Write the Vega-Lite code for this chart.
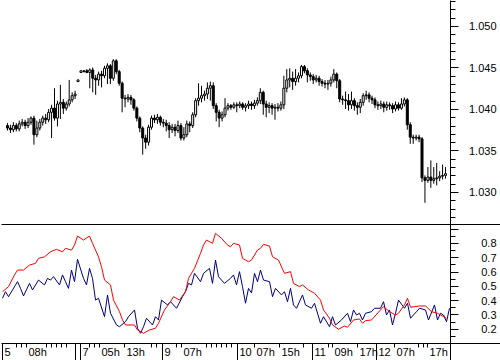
{
"$schema": "https://vega.github.io/schema/vega-lite/v6.json",
"padding": 0,
"autosize": {"type": "pad"},
"background": "white",
"spacing": 0,
"bounds": "flush",
"config": {"view": {"stroke": null}, "axis": {"labelFont": "Liberation Sans", "labelFontSize": 11, "labelColor": "black", "domainColor": "black", "tickColor": "black", "grid": false, "labelOverlap": false, "labelFlush": false, "labelBound": false, "title": null, "tickCount": 1000}},
"datasets": {
"candles": [
{"i":0,"o":1.0380,"c":1.0377,"h":1.0383,"l":1.0374},
{"i":1,"o":1.0377,"c":1.0375,"h":1.0381,"l":1.0371},
{"i":2,"o":1.0375,"c":1.0380,"h":1.0384,"l":1.0372},
{"i":3,"o":1.0380,"c":1.0376,"h":1.0383,"l":1.0373},
{"i":4,"o":1.0376,"c":1.0382,"h":1.0386,"l":1.0373},
{"i":5,"o":1.0382,"c":1.0384,"h":1.0388,"l":1.0379},
{"i":6,"o":1.0384,"c":1.0380,"h":1.0387,"l":1.0376},
{"i":7,"o":1.0380,"c":1.0384,"h":1.0389,"l":1.0377},
{"i":8,"o":1.0384,"c":1.0389,"h":1.0391,"l":1.0381},
{"i":9,"o":1.0389,"c":1.0369,"h":1.0392,"l":1.0357},
{"i":10,"o":1.0369,"c":1.0377,"h":1.0386,"l":1.0366},
{"i":11,"o":1.0377,"c":1.0384,"h":1.0388,"l":1.0374},
{"i":12,"o":1.0384,"c":1.0389,"h":1.0392,"l":1.0380},
{"i":13,"o":1.0389,"c":1.0387,"h":1.0394,"l":1.0382},
{"i":14,"o":1.0387,"c":1.0396,"h":1.0400,"l":1.0384},
{"i":15,"o":1.0396,"c":1.0401,"h":1.0405,"l":1.0365},
{"i":16,"o":1.0401,"c":1.0389,"h":1.0425,"l":1.0386},
{"i":17,"o":1.0389,"c":1.0406,"h":1.0410,"l":1.0379},
{"i":18,"o":1.0406,"c":1.0408,"h":1.0429,"l":1.0388},
{"i":19,"o":1.0408,"c":1.0401,"h":1.0412,"l":1.0394},
{"i":20,"o":1.0401,"c":1.0406,"h":1.0409,"l":1.0398},
{"i":21,"o":1.0406,"c":1.0411,"h":1.0435,"l":1.0403},
{"i":22,"o":1.0411,"c":1.0416,"h":1.0420,"l":1.0408},
{"i":23,"o":1.0416,"c":1.0418,"h":1.0422,"l":1.0412},
{"i":24,"o":1.0433,"c":1.0435,"h":1.0435,"l":1.0433},
{"i":25,"o":1.0444,"c":1.0446,"h":1.0446,"l":1.0444},
{"i":26,"o":1.0445,"c":1.0446,"h":1.0447,"l":1.0444},
{"i":27,"o":1.0446,"c":1.0444,"h":1.0448,"l":1.0443},
{"i":28,"o":1.0444,"c":1.0447,"h":1.0449,"l":1.0425},
{"i":29,"o":1.0447,"c":1.0437,"h":1.0450,"l":1.0420},
{"i":30,"o":1.0437,"c":1.0435,"h":1.0441,"l":1.0417},
{"i":31,"o":1.0435,"c":1.0442,"h":1.0445,"l":1.0428},
{"i":32,"o":1.0442,"c":1.0440,"h":1.0446,"l":1.0426},
{"i":33,"o":1.0440,"c":1.0449,"h":1.0452,"l":1.0437},
{"i":34,"o":1.0449,"c":1.0452,"h":1.0455,"l":1.0430},
{"i":35,"o":1.0452,"c":1.0437,"h":1.0454,"l":1.0430},
{"i":36,"o":1.0437,"c":1.0458,"h":1.0460,"l":1.0434},
{"i":37,"o":1.0458,"c":1.0445,"h":1.0460,"l":1.0442},
{"i":38,"o":1.0445,"c":1.0431,"h":1.0447,"l":1.0428},
{"i":39,"o":1.0431,"c":1.0413,"h":1.0433,"l":1.0396},
{"i":40,"o":1.0413,"c":1.0412,"h":1.0417,"l":1.0402},
{"i":41,"o":1.0412,"c":1.0414,"h":1.0418,"l":1.0408},
{"i":42,"o":1.0414,"c":1.0411,"h":1.0417,"l":1.0405},
{"i":43,"o":1.0411,"c":1.0401,"h":1.0413,"l":1.0398},
{"i":44,"o":1.0401,"c":1.0389,"h":1.0403,"l":1.0385},
{"i":45,"o":1.0389,"c":1.0377,"h":1.0391,"l":1.0372},
{"i":46,"o":1.0377,"c":1.0365,"h":1.0379,"l":1.0345},
{"i":47,"o":1.0365,"c":1.0360,"h":1.0369,"l":1.0352},
{"i":48,"o":1.0360,"c":1.0378,"h":1.0381,"l":1.0356},
{"i":49,"o":1.0378,"c":1.0389,"h":1.0392,"l":1.0375},
{"i":50,"o":1.0389,"c":1.0387,"h":1.0393,"l":1.0383},
{"i":51,"o":1.0387,"c":1.0390,"h":1.0394,"l":1.0382},
{"i":52,"o":1.0390,"c":1.0384,"h":1.0392,"l":1.0380},
{"i":53,"o":1.0384,"c":1.0383,"h":1.0388,"l":1.0378},
{"i":54,"o":1.0383,"c":1.0380,"h":1.0387,"l":1.0373},
{"i":55,"o":1.0380,"c":1.0375,"h":1.0384,"l":1.0365},
{"i":56,"o":1.0375,"c":1.0378,"h":1.0382,"l":1.0371},
{"i":57,"o":1.0378,"c":1.0374,"h":1.0382,"l":1.0367},
{"i":58,"o":1.0374,"c":1.0380,"h":1.0386,"l":1.0371},
{"i":59,"o":1.0380,"c":1.0365,"h":1.0383,"l":1.0362},
{"i":60,"o":1.0365,"c":1.0369,"h":1.0378,"l":1.0362},
{"i":61,"o":1.0369,"c":1.0382,"h":1.0386,"l":1.0366},
{"i":62,"o":1.0382,"c":1.0380,"h":1.0385,"l":1.0372},
{"i":63,"o":1.0380,"c":1.0393,"h":1.0396,"l":1.0377},
{"i":64,"o":1.0393,"c":1.0410,"h":1.0413,"l":1.0390},
{"i":65,"o":1.0410,"c":1.0413,"h":1.0431,"l":1.0404},
{"i":66,"o":1.0413,"c":1.0416,"h":1.0428,"l":1.0408},
{"i":67,"o":1.0416,"c":1.0418,"h":1.0422,"l":1.0410},
{"i":68,"o":1.0418,"c":1.0425,"h":1.0432,"l":1.0412},
{"i":69,"o":1.0425,"c":1.0428,"h":1.0433,"l":1.0410},
{"i":70,"o":1.0428,"c":1.0404,"h":1.0432,"l":1.0400},
{"i":71,"o":1.0404,"c":1.0396,"h":1.0407,"l":1.0385},
{"i":72,"o":1.0396,"c":1.0389,"h":1.0399,"l":1.0378},
{"i":73,"o":1.0389,"c":1.0393,"h":1.0397,"l":1.0385},
{"i":74,"o":1.0393,"c":1.0401,"h":1.0413,"l":1.0390},
{"i":75,"o":1.0401,"c":1.0404,"h":1.0407,"l":1.0398},
{"i":76,"o":1.0404,"c":1.0402,"h":1.0406,"l":1.0399},
{"i":77,"o":1.0402,"c":1.0405,"h":1.0408,"l":1.0400},
{"i":78,"o":1.0405,"c":1.0404,"h":1.0408,"l":1.0396},
{"i":79,"o":1.0404,"c":1.0406,"h":1.0409,"l":1.0401},
{"i":80,"o":1.0406,"c":1.0402,"h":1.0408,"l":1.0399},
{"i":81,"o":1.0402,"c":1.0404,"h":1.0407,"l":1.0397},
{"i":82,"o":1.0404,"c":1.0406,"h":1.0410,"l":1.0400},
{"i":83,"o":1.0406,"c":1.0404,"h":1.0409,"l":1.0399},
{"i":84,"o":1.0404,"c":1.0407,"h":1.0411,"l":1.0400},
{"i":85,"o":1.0407,"c":1.0410,"h":1.0414,"l":1.0404},
{"i":86,"o":1.0410,"c":1.0420,"h":1.0425,"l":1.0406},
{"i":87,"o":1.0420,"c":1.0406,"h":1.0422,"l":1.0393},
{"i":88,"o":1.0406,"c":1.0402,"h":1.0410,"l":1.0390},
{"i":89,"o":1.0402,"c":1.0404,"h":1.0408,"l":1.0395},
{"i":90,"o":1.0404,"c":1.0401,"h":1.0407,"l":1.0393},
{"i":91,"o":1.0401,"c":1.0402,"h":1.0406,"l":1.0387},
{"i":92,"o":1.0402,"c":1.0401,"h":1.0407,"l":1.0397},
{"i":93,"o":1.0401,"c":1.0405,"h":1.0409,"l":1.0398},
{"i":94,"o":1.0405,"c":1.0425,"h":1.0440,"l":1.0400},
{"i":95,"o":1.0425,"c":1.0435,"h":1.0448,"l":1.0420},
{"i":96,"o":1.0435,"c":1.0437,"h":1.0449,"l":1.0426},
{"i":97,"o":1.0437,"c":1.0433,"h":1.0445,"l":1.0423},
{"i":98,"o":1.0433,"c":1.0437,"h":1.0448,"l":1.0428},
{"i":99,"o":1.0437,"c":1.0440,"h":1.0444,"l":1.0432},
{"i":100,"o":1.0440,"c":1.0451,"h":1.0453,"l":1.0437},
{"i":101,"o":1.0451,"c":1.0446,"h":1.0453,"l":1.0443},
{"i":102,"o":1.0446,"c":1.0441,"h":1.0449,"l":1.0432},
{"i":103,"o":1.0441,"c":1.0439,"h":1.0444,"l":1.0434},
{"i":104,"o":1.0439,"c":1.0435,"h":1.0442,"l":1.0430},
{"i":105,"o":1.0435,"c":1.0437,"h":1.0441,"l":1.0432},
{"i":106,"o":1.0437,"c":1.0433,"h":1.0440,"l":1.0428},
{"i":107,"o":1.0433,"c":1.0431,"h":1.0436,"l":1.0427},
{"i":108,"o":1.0431,"c":1.0430,"h":1.0435,"l":1.0425},
{"i":109,"o":1.0430,"c":1.0431,"h":1.0435,"l":1.0423},
{"i":110,"o":1.0431,"c":1.0435,"h":1.0439,"l":1.0427},
{"i":111,"o":1.0435,"c":1.0442,"h":1.0448,"l":1.0432},
{"i":112,"o":1.0442,"c":1.0434,"h":1.0444,"l":1.0425},
{"i":113,"o":1.0434,"c":1.0412,"h":1.0436,"l":1.0408},
{"i":114,"o":1.0412,"c":1.0411,"h":1.0416,"l":1.0405},
{"i":115,"o":1.0411,"c":1.0410,"h":1.0421,"l":1.0400},
{"i":116,"o":1.0410,"c":1.0405,"h":1.0418,"l":1.0398},
{"i":117,"o":1.0405,"c":1.0410,"h":1.0421,"l":1.0400},
{"i":118,"o":1.0410,"c":1.0404,"h":1.0413,"l":1.0398},
{"i":119,"o":1.0404,"c":1.0402,"h":1.0408,"l":1.0393},
{"i":120,"o":1.0402,"c":1.0408,"h":1.0412,"l":1.0395},
{"i":121,"o":1.0408,"c":1.0416,"h":1.0419,"l":1.0404},
{"i":122,"o":1.0416,"c":1.0417,"h":1.0422,"l":1.0411},
{"i":123,"o":1.0417,"c":1.0413,"h":1.0420,"l":1.0408},
{"i":124,"o":1.0413,"c":1.0411,"h":1.0416,"l":1.0406},
{"i":125,"o":1.0411,"c":1.0405,"h":1.0414,"l":1.0401},
{"i":126,"o":1.0405,"c":1.0404,"h":1.0409,"l":1.0399},
{"i":127,"o":1.0404,"c":1.0406,"h":1.0410,"l":1.0400},
{"i":128,"o":1.0406,"c":1.0402,"h":1.0409,"l":1.0396},
{"i":129,"o":1.0402,"c":1.0405,"h":1.0409,"l":1.0398},
{"i":130,"o":1.0405,"c":1.0404,"h":1.0408,"l":1.0399},
{"i":131,"o":1.0404,"c":1.0400,"h":1.0407,"l":1.0395},
{"i":132,"o":1.0400,"c":1.0405,"h":1.0409,"l":1.0397},
{"i":133,"o":1.0405,"c":1.0401,"h":1.0408,"l":1.0398},
{"i":134,"o":1.0401,"c":1.0406,"h":1.0413,"l":1.0399},
{"i":135,"o":1.0406,"c":1.0411,"h":1.0414,"l":1.0403},
{"i":136,"o":1.0411,"c":1.0381,"h":1.0413,"l":1.0375},
{"i":137,"o":1.0381,"c":1.0366,"h":1.0384,"l":1.0358},
{"i":138,"o":1.0366,"c":1.0365,"h":1.0369,"l":1.0358},
{"i":139,"o":1.0365,"c":1.0366,"h":1.0369,"l":1.0362},
{"i":140,"o":1.0366,"c":1.0364,"h":1.0369,"l":1.0360},
{"i":141,"o":1.0364,"c":1.0317,"h":1.0366,"l":1.0312},
{"i":142,"o":1.0317,"c":1.0314,"h":1.0320,"l":1.0287},
{"i":143,"o":1.0314,"c":1.0318,"h":1.0330,"l":1.0311},
{"i":144,"o":1.0318,"c":1.0314,"h":1.0338,"l":1.0305},
{"i":145,"o":1.0314,"c":1.0316,"h":1.0330,"l":1.0310},
{"i":146,"o":1.0316,"c":1.0317,"h":1.0335,"l":1.0308},
{"i":147,"o":1.0317,"c":1.0319,"h":1.0325,"l":1.0313},
{"i":148,"o":1.0319,"c":1.0320,"h":1.0333,"l":1.0315},
{"i":149,"o":1.0320,"c":1.0322,"h":1.0330,"l":1.0316}
],
"ind": [
{"s":"blue","i":0,"v":0.413},{"s":"blue","i":1,"v":0.459},{"s":"blue","i":2,"v":0.424},{"s":"blue","i":5,"v":0.529},{"s":"blue","i":6,"v":0.482},{"s":"blue","i":7,"v":0.429},{"s":"blue","i":9,"v":0.517},{"s":"blue","i":10,"v":0.471},{"s":"blue","i":12,"v":0.54},{"s":"blue","i":14,"v":0.506},{"s":"blue","i":15,"v":0.552},{"s":"blue","i":16,"v":0.54},{"s":"blue","i":17,"v":0.564},{"s":"blue","i":19,"v":0.506},{"s":"blue","i":20,"v":0.576},{"s":"blue","i":21,"v":0.529},{"s":"blue","i":22,"v":0.482},{"s":"blue","i":23,"v":0.61},{"s":"blue","i":24,"v":0.529},{"s":"blue","i":25,"v":0.685},{"s":"blue","i":27,"v":0.552},{"s":"blue","i":28,"v":0.506},{"s":"blue","i":29,"v":0.622},{"s":"blue","i":30,"v":0.552},{"s":"blue","i":31,"v":0.40},{"s":"blue","i":32,"v":0.413},{"s":"blue","i":34,"v":0.284},{"s":"blue","i":35,"v":0.436},{"s":"blue","i":36,"v":0.308},{"s":"blue","i":38,"v":0.226},{"s":"blue","i":39,"v":0.214},{"s":"blue","i":41,"v":0.249},{"s":"blue","i":42,"v":0.284},{"s":"blue","i":44,"v":0.331},{"s":"blue","i":45,"v":0.203},{"s":"blue","i":46,"v":0.168},{"s":"blue","i":47,"v":0.214},{"s":"blue","i":48,"v":0.273},{"s":"blue","i":50,"v":0.226},{"s":"blue","i":51,"v":0.284},{"s":"blue","i":52,"v":0.261},{"s":"blue","i":53,"v":0.40},{"s":"blue","i":55,"v":0.366},{"s":"blue","i":56,"v":0.389},{"s":"blue","i":58,"v":0.343},{"s":"blue","i":60,"v":0.424},{"s":"blue","i":61,"v":0.459},{"s":"blue","i":62,"v":0.517},{"s":"blue","i":63,"v":0.506},{"s":"blue","i":64,"v":0.587},{"s":"blue","i":66,"v":0.529},{"s":"blue","i":67,"v":0.587},{"s":"blue","i":69,"v":0.622},{"s":"blue","i":70,"v":0.517},{"s":"blue","i":71,"v":0.68},{"s":"blue","i":72,"v":0.564},{"s":"blue","i":74,"v":0.517},{"s":"blue","i":76,"v":0.552},{"s":"blue","i":77,"v":0.576},{"s":"blue","i":78,"v":0.506},{"s":"blue","i":79,"v":0.599},{"s":"blue","i":80,"v":0.494},{"s":"blue","i":81,"v":0.378},{"s":"blue","i":82,"v":0.482},{"s":"blue","i":83,"v":0.45},{"s":"blue","i":84,"v":0.587},{"s":"blue","i":85,"v":0.529},{"s":"blue","i":86,"v":0.61},{"s":"blue","i":87,"v":0.54},{"s":"blue","i":89,"v":0.529},{"s":"blue","i":90,"v":0.424},{"s":"blue","i":91,"v":0.482},{"s":"blue","i":93,"v":0.436},{"s":"blue","i":94,"v":0.459},{"s":"blue","i":95,"v":0.389},{"s":"blue","i":96,"v":0.482},{"s":"blue","i":97,"v":0.366},{"s":"blue","i":98,"v":0.343},{"s":"blue","i":100,"v":0.436},{"s":"blue","i":101,"v":0.366},{"s":"blue","i":103,"v":0.343},{"s":"blue","i":104,"v":0.378},{"s":"blue","i":106,"v":0.238},{"s":"blue","i":107,"v":0.284},{"s":"blue","i":109,"v":0.214},{"s":"blue","i":110,"v":0.284},{"s":"blue","i":111,"v":0.226},{"s":"blue","i":113,"v":0.261},{"s":"blue","i":115,"v":0.308},{"s":"blue","i":116,"v":0.249},{"s":"blue","i":117,"v":0.331},{"s":"blue","i":118,"v":0.296},{"s":"blue","i":119,"v":0.308},{"s":"blue","i":120,"v":0.261},{"s":"blue","i":121,"v":0.308},{"s":"blue","i":123,"v":0.319},{"s":"blue","i":124,"v":0.343},{"s":"blue","i":126,"v":0.343},{"s":"blue","i":127,"v":0.389},{"s":"blue","i":128,"v":0.296},{"s":"blue","i":129,"v":0.331},{"s":"blue","i":130,"v":0.226},{"s":"blue","i":131,"v":0.308},{"s":"blue","i":132,"v":0.40},{"s":"blue","i":134,"v":0.343},{"s":"blue","i":135,"v":0.378},{"s":"blue","i":136,"v":0.273},{"s":"blue","i":138,"v":0.319},{"s":"blue","i":139,"v":0.343},{"s":"blue","i":141,"v":0.331},{"s":"blue","i":142,"v":0.261},{"s":"blue","i":144,"v":0.366},{"s":"blue","i":145,"v":0.261},{"s":"blue","i":146,"v":0.308},{"s":"blue","i":147,"v":0.296},{"s":"blue","i":148,"v":0.249},{"s":"blue","i":149,"v":0.343},
{"s":"red","i":0,"v":0.459},{"s":"red","i":2,"v":0.494},{"s":"red","i":4,"v":0.576},{"s":"red","i":5,"v":0.61},{"s":"red","i":7,"v":0.61},{"s":"red","i":9,"v":0.645},{"s":"red","i":11,"v":0.657},{"s":"red","i":12,"v":0.692},{"s":"red","i":14,"v":0.703},{"s":"red","i":16,"v":0.738},{"s":"red","i":18,"v":0.755},{"s":"red","i":20,"v":0.738},{"s":"red","i":21,"v":0.762},{"s":"red","i":23,"v":0.75},{"s":"red","i":24,"v":0.785},{"s":"red","i":25,"v":0.848},{"s":"red","i":27,"v":0.82},{"s":"red","i":29,"v":0.848},{"s":"red","i":30,"v":0.797},{"s":"red","i":32,"v":0.703},{"s":"red","i":33,"v":0.633},{"s":"red","i":34,"v":0.54},{"s":"red","i":36,"v":0.506},{"s":"red","i":37,"v":0.40},{"s":"red","i":39,"v":0.319},{"s":"red","i":40,"v":0.261},{"s":"red","i":41,"v":0.226},{"s":"red","i":44,"v":0.226},{"s":"red","i":45,"v":0.191},{"s":"red","i":47,"v":0.168},{"s":"red","i":49,"v":0.191},{"s":"red","i":51,"v":0.203},{"s":"red","i":52,"v":0.238},{"s":"red","i":54,"v":0.331},{"s":"red","i":56,"v":0.389},{"s":"red","i":57,"v":0.424},{"s":"red","i":59,"v":0.40},{"s":"red","i":61,"v":0.459},{"s":"red","i":62,"v":0.552},{"s":"red","i":64,"v":0.622},{"s":"red","i":66,"v":0.727},{"s":"red","i":67,"v":0.785},{"s":"red","i":68,"v":0.82},{"s":"red","i":70,"v":0.797},{"s":"red","i":71,"v":0.867},{"s":"red","i":73,"v":0.832},{"s":"red","i":75,"v":0.785},{"s":"red","i":76,"v":0.773},{"s":"red","i":77,"v":0.797},{"s":"red","i":79,"v":0.785},{"s":"red","i":80,"v":0.692},{"s":"red","i":82,"v":0.668},{"s":"red","i":83,"v":0.68},{"s":"red","i":85,"v":0.75},{"s":"red","i":86,"v":0.762},{"s":"red","i":87,"v":0.79},{"s":"red","i":89,"v":0.778},{"s":"red","i":90,"v":0.703},{"s":"red","i":92,"v":0.68},{"s":"red","i":94,"v":0.587},{"s":"red","i":96,"v":0.599},{"s":"red","i":97,"v":0.517},{"s":"red","i":99,"v":0.494},{"s":"red","i":100,"v":0.506},{"s":"red","i":102,"v":0.471},{"s":"red","i":104,"v":0.448},{"s":"red","i":106,"v":0.40},{"s":"red","i":107,"v":0.331},{"s":"red","i":109,"v":0.273},{"s":"red","i":110,"v":0.226},{"s":"red","i":112,"v":0.196},{"s":"red","i":114,"v":0.219},{"s":"red","i":115,"v":0.21},{"s":"red","i":117,"v":0.261},{"s":"red","i":119,"v":0.268},{"s":"red","i":120,"v":0.238},{"s":"red","i":121,"v":0.256},{"s":"red","i":123,"v":0.261},{"s":"red","i":126,"v":0.331},{"s":"red","i":127,"v":0.354},{"s":"red","i":129,"v":0.319},{"s":"red","i":131,"v":0.296},{"s":"red","i":132,"v":0.308},{"s":"red","i":134,"v":0.366},{"s":"red","i":135,"v":0.413},{"s":"red","i":136,"v":0.35},{"s":"red","i":139,"v":0.359},{"s":"red","i":141,"v":0.359},{"s":"red","i":143,"v":0.319},{"s":"red","i":145,"v":0.308},{"s":"red","i":146,"v":0.296},{"s":"red","i":148,"v":0.273}
]
},
"vconcat": [
{
"width": 500,
"height": 224,
"data": {"name": "candles"},
"encoding": {
"x": {"field": "i", "type": "quantitative", "scale": {"domain": [-0.5, 166.1667], "nice": false, "zero": false},
"axis": {"orient": "bottom", "labels": false, "ticks": false, "domain": true, "title": null}}
},
"layer": [
{"mark": {"type": "rule", "color": "black", "strokeWidth": 1},
"encoding": {
"y": {"field": "l", "type": "quantitative", "scale": {"domain": [1.02614, 1.05313], "nice": false, "zero": false},
"axis": {"orient": "right", "offset": -51, "tickCount": 1000, "values": [1.027,1.028,1.029,1.030,1.031,1.032,1.033,1.034,1.035,1.036,1.037,1.038,1.039,1.040,1.041,1.042,1.043,1.044,1.045,1.046,1.047,1.048,1.049,1.050,1.051,1.052,1.053],
"tickSize": 8,
"tickDash": {"condition": {"test": "round(datum.value*1000) % 5 == 0", "value": [9, 1]}, "value": [5, 10]},
"labelFontSize": {"condition": {"test": "round(datum.value*1000) % 5 == 0", "value": 11}, "value": 0},
"labelExpr": "round(datum.value*1000) % 5 == 0 ? format(datum.value, '.3f') : ''",
"labelAlign": "right", "labelPadding": 38, "labelOffset": 1, "title": null}},
"y2": {"field": "h"}
}},
{"mark": {"type": "bar", "orient": "vertical", "size": 2, "stroke": "black", "strokeWidth": 1},
"encoding": {
"y": {"field": "o", "type": "quantitative"},
"y2": {"field": "c"},
"fill": {"condition": {"test": "datum.c >= datum.o", "value": "white"}, "value": "black"}
}}
]
},
{
"width": 500,
"height": 119,
"data": {"name": "ind"},
"mark": {"type": "line", "strokeWidth": 1, "interpolate": "linear"},
"encoding": {
"x": {"field": "i", "type": "quantitative", "scale": {"domain": [-0.5, 166.1667], "nice": false, "zero": false},
"axis": {"orient": "bottom", "title": null, "tickCount": 1000,
"values": [-0.1667, 4.5, 6.1667, 7.8333, 14.5, 16.1667, 17.8333, 19.5, 21.1667, 24.1667, 25.8333, 28.8333, 30.5, 32.1667, 40.5, 49.5, 51.1667, 53.1667, 57.8333, 59.5, 67.8333, 69.5, 71.1667, 72.8333, 74.5, 76.1667, 78.1667, 83.8333, 92.1667, 100.1667, 103.1667, 108.5, 109.8333, 118.1667, 124.5, 130.5, 138.5, 140.1667, 141.5, 149.1667],
"tickSize": 17,
"tickDash": {"condition": {"test": "indexof([-0.1667, 24.1667, 25.8333, 53.1667, 78.1667, 103.1667, 124.5, 149.1667], datum.value) >= 0", "value": [18, 1]}, "value": [4, 20]},
"labelExpr": "datum.value == -0.1667 ? '5' : datum.value == 7.8333 ? '08h' : datum.value == 25.8333 ? '7' : datum.value == 32.1667 ? '05h' : datum.value == 40.5 ? '13h' : datum.value == 53.1667 ? '9' : datum.value == 59.5 ? '07h' : datum.value == 78.1667 ? '10' : datum.value == 83.8333 ? '07h' : datum.value == 92.1667 ? '15h' : datum.value == 103.1667 ? '11' : datum.value == 109.8333 ? '09h' : datum.value == 118.1667 ? '17h' : datum.value == 124.5 ? '12' : datum.value == 130.5 ? '07h' : datum.value == 141.5 ? '17h' : ''",
"labelAlign": "left", "labelBaseline": "top", "labelPadding": -14, "labelOffset": 2}},
"y": {"field": "v", "type": "quantitative", "scale": {"domain": [0.1, 0.9322], "nice": false, "zero": false},
"axis": {"orient": "right", "offset": -51, "tickCount": 1000, "values": [0.1,0.15,0.2,0.25,0.3,0.35,0.4,0.45,0.5,0.55,0.6,0.65,0.7,0.75,0.8,0.85,0.9],
"tickSize": 8,
"tickDash": {"condition": {"test": "round(datum.value*100) % 10 == 0", "value": [9, 1]}, "value": [5, 10]},
"labelFontSize": {"condition": {"test": "round(datum.value*100) % 10 == 0 && datum.value > 0.15 && datum.value < 0.85", "value": 11}, "value": 0},
"labelExpr": "round(datum.value*100) % 10 == 0 && datum.value > 0.15 && datum.value < 0.85 ? format(datum.value, '.1f') : ''",
"labelAlign": "right", "labelPadding": 38, "labelOffset": 1, "title": null}},
"color": {"field": "s", "type": "nominal", "scale": {"domain": ["blue", "red"], "range": ["#000080", "#ff0000"]}, "legend": null}
}
}
]
}
